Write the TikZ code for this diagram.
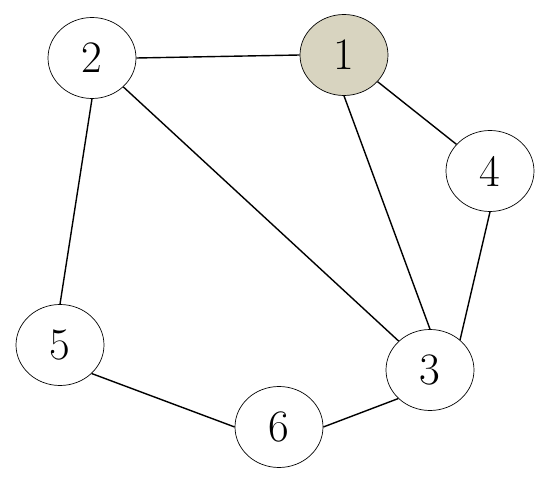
\documentclass[tikz,border=0pt]{standalone}
\usepackage{xcolor}
\usepackage{tikz}
\usetikzlibrary{shapes.geometric}
\definecolor{seedgray}{RGB}{216,212,192}

\tikzset{vertex/.style={ellipse,draw,line width=0.7pt,fill=white,minimum width=88pt,minimum height=81pt,inner sep=0pt,font=\fontsize{45}{50}\selectfont}}

\begin{document}
\begin{tikzpicture}[x=1pt,y=-1pt,line width=1.4pt]
\useasboundingbox (0,0) rectangle (550,481);
\node (V2)[vertex] at (92,58) {2};
\node (V1)[vertex,fill=seedgray] at (344,55) {1};
\node (V4)[vertex] at (490,171) {4};
\node (V5)[vertex] at (60,345) {5};
\node (V3)[vertex] at (430,370) {3};
\node (V6)[vertex] at (279,427) {6};

\draw (V2.east) -- (V1.west);
\draw (V2.south) -- (V5.north);
\draw (V2) -- (V3);
\draw (V1) -- (V4);
\draw (V1.south) -- (V3.north);
\draw (V4.south) -- (V3.45);
\draw (V5.-42) -- (V6.west);
\draw (V6.east) -- (V3.222);
\end{tikzpicture}
\end{document}
